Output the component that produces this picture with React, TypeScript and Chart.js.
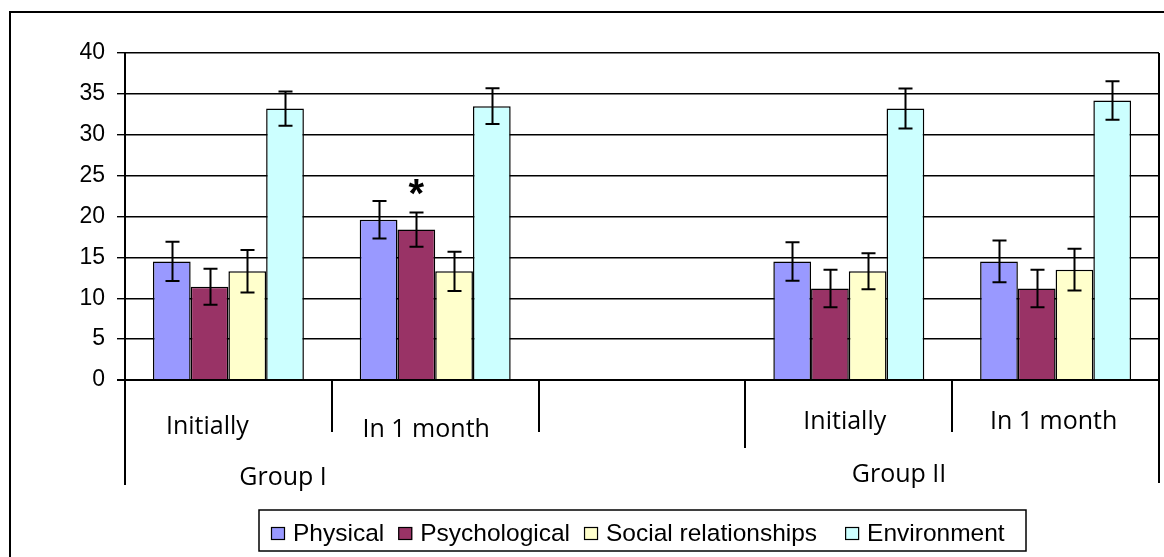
import React, { useEffect, useRef } from "react";
import { Chart, registerables } from "chart.js";

Chart.register(...registerables);

const categories = ["Initially", "In 1 month", "", "Initially", "In 1 month"];
const groupLabels = ["Group I", "Group II"];
const seriesNames = ["Physical", "Psychological", "Social relationships", "Environment"];

const physical = [14.5, 19.6, null, 14.5, 14.5];
const psychological = [11.4, 18.4, null, 11.2, 11.2];
const social = [13.3, 13.3, null, 13.3, 13.5];
const environment = [33.2, 33.5, null, 33.2, 34.2];

const physicalErr = [2.4, 2.3, null, 2.35, 2.55];
const psychologicalErr = [2.2, 2.1, null, 2.3, 2.3];
const socialErr = [2.6, 2.4, null, 2.2, 2.55];
const environmentErr = [2.1, 2.2, null, 2.45, 2.35];

const yTicks = [0, 5, 10, 15, 20, 25, 30, 35, 40];

const colors = ["#9999FF", "#993366", "#FFFFCC", "#CCFFFF"];
const values = [physical, psychological, social, environment];
const errors = [physicalErr, psychologicalErr, socialErr, environmentErr];

// significance marker: series index 1, category index 1
const markSeries = 1;
const markCategory = 1;

const W = 1164;
const H = 557;

const decor = {
  id: "decor",
  beforeDraw(chart: any) {
    const ctx = chart.ctx;
    ctx.save();
    ctx.fillStyle = "#fff";
    ctx.fillRect(0, 0, W, H);
    ctx.strokeStyle = "#000";
    ctx.lineWidth = 2;
    ctx.strokeRect(10, 12, 3000, 3000);
    ctx.restore();
  },
  afterDraw(chart: any) {
    const ctx = chart.ctx;
    const area = chart.chartArea;
    const xs = chart.scales.x;
    const ys = chart.scales.y;
    const n = categories.length;
    const cw = (area.right - area.left) / n;
    ctx.save();

    // error bars
    ctx.strokeStyle = "#000";
    ctx.lineWidth = 2;
    values.forEach((arr, i) => {
      const meta = chart.getDatasetMeta(i);
      arr.forEach((v, j) => {
        const e = errors[i][j];
        if (v == null || e == null) return;
        const el = meta.data[j];
        const x = Math.round(el.x) + 0.5;
        const yt = ys.getPixelForValue(v + e);
        const yb = ys.getPixelForValue(v - e);
        ctx.beginPath();
        ctx.moveTo(x, yt);
        ctx.lineTo(x, yb);
        ctx.moveTo(x - 7, yt);
        ctx.lineTo(x + 7, yt);
        ctx.moveTo(x - 7, yb);
        ctx.lineTo(x + 7, yb);
        ctx.stroke();
      });
    });

    // asterisk
    {
      const meta = chart.getDatasetMeta(markSeries);
      const el = meta.data[markCategory];
      const v = values[markSeries][markCategory] as number;
      const e = errors[markSeries][markCategory] as number;
      const yt = ys.getPixelForValue(v + e);
      ctx.fillStyle = "#000";
      ctx.font = "bold 40px 'Liberation Sans', Arial";
      const m = ctx.measureText("*");
      const gh = m.actualBoundingBoxAscent + m.actualBoundingBoxDescent;
      const size = (40 * 16) / gh;
      ctx.font = `bold ${size}px 'Liberation Sans', Arial`;
      const m2 = ctx.measureText("*");
      const cy = yt - 25;
      const base = cy + (m2.actualBoundingBoxAscent - m2.actualBoundingBoxDescent) / 2;
      ctx.textAlign = "center";
      ctx.textBaseline = "alphabetic";
      ctx.fillText("*", el.x, base);
    }

    // category dividers below axis
    const lens = [485, 432, 432, 448, 432, 483];
    ctx.lineWidth = 2;
    ctx.strokeStyle = "#000";
    for (let k = 0; k <= n; k++) {
      const x = Math.round(area.left + k * cw);
      ctx.beginPath();
      ctx.moveTo(x, k === n ? area.top : area.bottom);
      ctx.lineTo(x, lens[k]);
      ctx.stroke();
    }

    // category labels
    const labelShift = [-21, -9, 0, -4, -2];
    const labelBase = [434, 437, 434, 429, 429];
    ctx.fillStyle = "#000";
    ctx.font = "25px 'Open Sans'";
    ctx.textAlign = "center";
    ctx.textBaseline = "alphabetic";
    categories.forEach((c, j) => {
      if (!c) return;
      ctx.fillText(c, xs.getPixelForValue(j) + labelShift[j], labelBase[j]);
    });

    // group labels
    const groupX = [283, 899];
    const groupBase = [485, 482];
    groupLabels.forEach((g, k) => ctx.fillText(g, groupX[k], groupBase[k]));

    // legend
    ctx.font = "24.5px 'Liberation Sans', Arial";
    ctx.textAlign = "left";
    ctx.lineWidth = 1.5;
    ctx.strokeStyle = "#000";
    ctx.strokeRect(259, 510, 767, 41);
    let lx = 271;
    const gaps = [14, 14, 28, 0];
    seriesNames.forEach((s, i) => {
      ctx.fillStyle = colors[i];
      ctx.fillRect(lx, 527, 14, 13);
      ctx.lineWidth = 1.2;
      ctx.strokeRect(lx + 0.5, 527.5, 13, 12);
      ctx.fillStyle = "#000";
      ctx.fillText(s, lx + 22, 541);
      lx += 22 + ctx.measureText(s).width + gaps[i];
    });

    ctx.restore();
  },
};

export default function App() {
  const ref = useRef<HTMLCanvasElement>(null);
  useEffect(() => {
    if (!ref.current) return;
    const chart = new Chart(ref.current, {
      type: "bar",
      data: {
        labels: categories,
        datasets: seriesNames.map((name, i) => ({
          label: name,
          data: values[i] as any,
          backgroundColor: colors[i],
          borderColor: "#000",
          borderWidth: 1.5,
          categoryPercentage: 0.73,
          barPercentage: 1,
        })),
      },
      options: {
        animation: false,
        responsive: false,
        devicePixelRatio: 1,
        layout: { padding: { left: 10, top: 53, right: 5, bottom: 177 } },
        plugins: { legend: { display: false }, tooltip: { enabled: false } },
        scales: {
          x: { display: false },
          y: {
            min: 0,
            max: 40,
            afterBuildTicks: (s: any) => {
              s.ticks = yTicks.map((v) => ({ value: v }));
            },
            afterFit: (s: any) => {
              s.width = 115;
            },
            ticks: {
              color: "#000",
              padding: 12,
              font: { family: "'Liberation Sans', Arial", size: 23 },
            },
            grid: {
              color: "#000",
              tickLength: 8,
              lineWidth: (c: any) => (c.tick && c.tick.value === 0 ? 2 : 1.4),
            },
            border: { color: "#000", width: 2 },
          },
        },
      },
      plugins: [decor],
    });
    return () => chart.destroy();
  }, []);
  return (
    <div style={{ position: "absolute", left: 0, top: 0, width: W, height: H }}>
      <canvas ref={ref} width={W} height={H} />
    </div>
  );
}
